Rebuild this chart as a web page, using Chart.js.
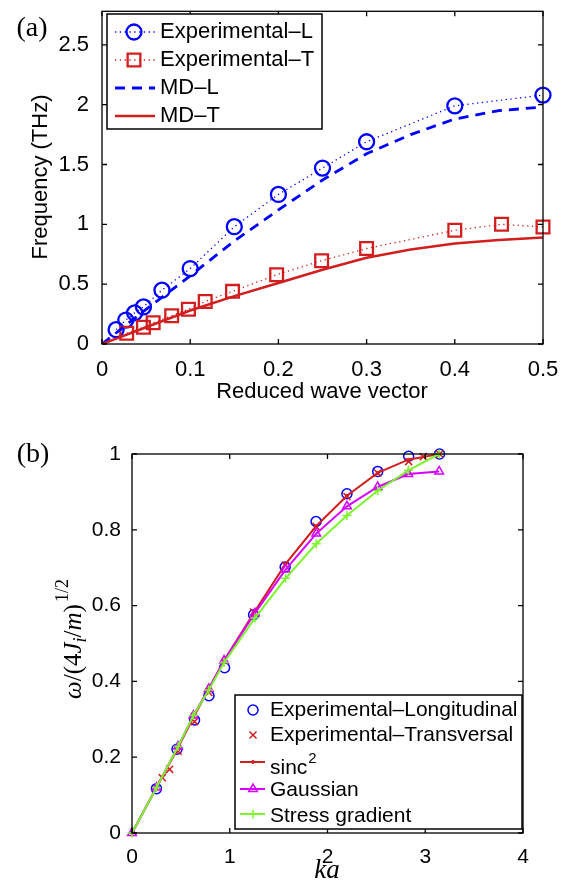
<!DOCTYPE html>
<html>
<head>
<meta charset="utf-8">
<script src="https://cdn.jsdelivr.net/npm/chart.js@4.4.1/dist/chart.umd.min.js"></script>
<style>
body { margin: 0; background: #fff; }
canvas { position: absolute; left: 0; }
#chartA { top: 0; }
#chartB { top: 430px; }
</style>
</head>
<body>
<canvas id="chartA" width="570" height="420"></canvas>
<canvas id="chartB" width="570" height="451"></canvas>
<script>
// ---- panel (a) data ----
const expLx = [0.016, 0.027, 0.037, 0.047, 0.068, 0.1, 0.15, 0.2, 0.25, 0.3, 0.4, 0.5];
const expLy = [0.12, 0.2, 0.26, 0.31, 0.45, 0.63, 0.98, 1.25, 1.47, 1.69, 1.99, 2.08];
const expTx = [0.028, 0.047, 0.058, 0.079, 0.098, 0.117, 0.148, 0.198, 0.249, 0.3, 0.4, 0.453, 0.5];
const expTy = [0.09, 0.14, 0.177, 0.236, 0.291, 0.355, 0.44, 0.579, 0.696, 0.798, 0.95, 1.0, 0.978];
const mdX = [0, 0.05, 0.1, 0.15, 0.2, 0.25, 0.3, 0.35, 0.4, 0.45, 0.5];
const mdLy = [0, 0.29, 0.57, 0.86, 1.12, 1.37, 1.59, 1.75, 1.88, 1.95, 1.98];
const mdTy = [0, 0.14, 0.28, 0.4, 0.51, 0.62, 0.72, 0.79, 0.84, 0.87, 0.89];
const xTicksA = [0, 0.1, 0.2, 0.3, 0.4, 0.5];
const yTicksA = [0, 0.5, 1, 1.5, 2, 2.5];

// ---- panel (b) data ----
const kaL = [0.25, 0.46, 0.64, 0.787, 0.947, 1.244, 1.567, 1.883, 2.199, 2.514, 2.83, 3.146];
const omL = [0.117, 0.221, 0.298, 0.362, 0.436, 0.576, 0.702, 0.822, 0.895, 0.954, 0.994, 1.0];
const kaT = [0.31, 0.385, 0.472, 0.64, 0.787, 1.244, 1.567, 1.883, 2.199, 2.514, 2.83, 2.98, 3.146];
const omT = [0.146, 0.168, 0.216, 0.294, 0.371, 0.583, 0.707, 0.809, 0.888, 0.95, 0.98, 0.993, 1.0];
const kaModel = [0, 0.251, 0.471, 0.628, 0.785, 0.942, 1.257, 1.571, 1.885, 2.199, 2.513, 2.827, 3.142];
const sincY = [0, 0.12, 0.225, 0.305, 0.38, 0.455, 0.585, 0.71, 0.81, 0.89, 0.95, 0.985, 1.0];
const gaussY = [0, 0.12, 0.228, 0.31, 0.38, 0.455, 0.58, 0.695, 0.79, 0.862, 0.913, 0.947, 0.954];
const stressY = [0, 0.12, 0.228, 0.31, 0.377, 0.45, 0.567, 0.672, 0.763, 0.838, 0.903, 0.957, 1.0];
const xTicksB = [0, 1, 2, 3, 4];
const yTicksB = [0, 0.2, 0.4, 0.6, 0.8, 1];

const BLUE = '#0000ff';
const RED = 'rgb(210,30,30)';
const MAGENTA = 'rgb(215,0,255)';
const GREEN = 'rgb(125,245,45)';
const SANS = "'Liberation Sans', Arial, sans-serif";
const SERIF = "'Liberation Serif', 'Times New Roman', serif";

Chart.defaults.font.family = SANS;
Chart.defaults.color = '#000';

function pts(xs, ys) {
    return xs.map((x, i) => ({x: x, y: ys[i]}));
}

// axes box with inward ticks on all four sides (matlab style)
const boxPlugin = {
    id: 'box',
    afterDatasetsDraw(chart) {
        const ctx = chart.ctx;
        const a = chart.chartArea;
        const x = chart.scales.x, y = chart.scales.y;
        const len = 5;
        ctx.save();
        ctx.strokeStyle = '#000';
        ctx.lineWidth = 1.3;
        ctx.strokeRect(a.left, a.top, a.right - a.left, a.bottom - a.top);
        ctx.beginPath();
        x.ticks.forEach(t => {
            const px = x.getPixelForValue(t.value);
            ctx.moveTo(px, a.bottom); ctx.lineTo(px, a.bottom - len);
            ctx.moveTo(px, a.top); ctx.lineTo(px, a.top + len);
        });
        y.ticks.forEach(t => {
            const py = y.getPixelForValue(t.value);
            ctx.moveTo(a.left, py); ctx.lineTo(a.left + len, py);
            ctx.moveTo(a.right, py); ctx.lineTo(a.right - len, py);
        });
        ctx.stroke();
        ctx.restore();
    }
};

// legend box drawn inside the axes
const boxLegend = {
    id: 'boxLegend',
    afterDraw(chart, args, opts) {
        if (!opts.rows) return;
        const ctx = chart.ctx;
        const b = opts.box;
        ctx.save();
        ctx.fillStyle = '#fff';
        ctx.fillRect(b[0], b[1], b[2] - b[0], b[3] - b[1]);
        ctx.strokeStyle = '#000';
        ctx.lineWidth = 1.5;
        ctx.strokeRect(b[0], b[1], b[2] - b[0], b[3] - b[1]);
        opts.rows.forEach(r => {
            if (r.line) {
                ctx.save();
                ctx.strokeStyle = r.line.color;
                ctx.lineWidth = r.line.width;
                ctx.setLineDash(r.line.dash || []);
                ctx.beginPath();
                ctx.moveTo(opts.sample[0], r.y);
                ctx.lineTo(opts.sample[1], r.y);
                ctx.stroke();
                ctx.restore();
            }
            if (r.marker) {
                ctx.save();
                ctx.strokeStyle = r.marker.color;
                ctx.fillStyle = r.marker.fill || 'rgba(0,0,0,0)';
                ctx.lineWidth = r.marker.width;
                Chart.helpers.drawPoint(ctx, {pointStyle: r.marker.style, radius: r.marker.radius, rotation: 0, borderWidth: r.marker.width}, opts.markerX, r.y);
                ctx.restore();
            }
            ctx.fillStyle = '#000';
            ctx.font = opts.fontSize + 'px ' + SANS;
            ctx.textBaseline = 'middle';
            ctx.textAlign = 'left';
            const ty = r.y + (r.textDy || 0);
            ctx.fillText(r.label, opts.textX, ty);
            if (r.sup) {
                const w = ctx.measureText(r.label).width;
                ctx.font = Math.round(opts.fontSize * 0.7) + 'px ' + SANS;
                ctx.fillText(r.sup, opts.textX + w + 1, ty - 9);
            }
        });
        ctx.restore();
    }
};

// panel labels and axis titles
const titles = {
    id: 'titles',
    afterDraw(chart, args, opts) {
        const ctx = chart.ctx;
        ctx.save();
        ctx.fillStyle = '#000';
        ctx.textAlign = 'center';
        ctx.textBaseline = 'middle';
        (opts.texts || []).forEach(t => {
            ctx.save();
            ctx.translate(t.x, t.y);
            if (t.rotate) ctx.rotate(-Math.PI / 2);
            ctx.font = t.font;
            ctx.fillText(t.text, 0, 0);
            ctx.restore();
        });
        if (opts.math) {
            // omega/(4J_i/m)^{1/2}
            const m = opts.math;
            const big = m.size, small = Math.round(m.size * 0.7);
            const pieces = [
                {t: 'ω', it: true}, {t: '/', it: false}, {t: '(4', it: false},
                {t: 'J', it: true}, {t: 'i', it: true, sub: true}, {t: '/', it: false},
                {t: 'm', it: true}, {t: ')', it: false}, {t: '1/2', it: false, sup: true}
            ];
            const fontOf = p => (p.it ? 'italic ' : '') + ((p.sub || p.sup) ? small : big) + 'px ' + SERIF;
            let total = 0;
            pieces.forEach(p => { ctx.font = fontOf(p); p.w = ctx.measureText(p.t).width + (p.sup ? 2 : 0); total += p.w; });
            ctx.translate(m.x, m.y);
            ctx.rotate(-Math.PI / 2);
            ctx.textAlign = 'left';
            ctx.textBaseline = 'alphabetic';
            let cx = -total / 2;
            pieces.forEach(p => {
                ctx.font = fontOf(p);
                let dy = 8;
                if (p.sub) dy += 5;
                if (p.sup) dy -= 13;
                ctx.fillText(p.t, cx + (p.sup ? 2 : 0), dy);
                cx += p.w;
            });
        }
        ctx.restore();
    }
};

function axisOpts(min, max, tickList, fontSize, width, height, pad) {
    return {
        type: 'linear',
        min: min,
        max: max,
        grid: {display: false},
        border: {display: false},
        afterBuildTicks: s => { s.ticks = tickList.map(v => ({value: v})); },
        afterFit: s => {
            if (width !== null) s.width = width;
            if (height !== null) s.height = height;
            s.paddingTop = 0; s.paddingBottom = 0; s.paddingLeft = 0; s.paddingRight = 0;
        },
        ticks: {
            font: {size: fontSize},
            color: '#000',
            padding: pad,
            maxRotation: 0,
            autoSkip: false,
            callback: v => String(v)
        }
    };
}

// ---- chart (a) ----
new Chart(document.getElementById('chartA').getContext('2d'), {
    type: 'scatter',
    data: {
        datasets: [{
            label: 'Experimental-L',
            data: pts(expLx, expLy),
            showLine: true,
            borderColor: BLUE,
            borderWidth: 1.3,
            borderDash: [1.3, 3.5],
            pointStyle: 'circle',
            pointRadius: 7.5,
            pointBorderWidth: 2.3,
            pointBorderColor: BLUE,
            pointBackgroundColor: 'rgba(0,0,0,0)',
            clip: false,
            order: 3
        }, {
            label: 'Experimental-T',
            data: pts(expTx, expTy),
            showLine: true,
            borderColor: RED,
            borderWidth: 1.3,
            borderDash: [1.3, 3.5],
            pointStyle: 'rect',
            pointRadius: 9,
            pointBorderWidth: 2.3,
            pointBorderColor: RED,
            pointBackgroundColor: 'rgba(0,0,0,0)',
            clip: false,
            order: 2
        }, {
            label: 'MD-L',
            data: pts(mdX, mdLy),
            showLine: true,
            borderColor: BLUE,
            borderWidth: 2.8,
            borderDash: [10, 7],
            pointRadius: 0,
            order: 1
        }, {
            label: 'MD-T',
            data: pts(mdX, mdTy),
            showLine: true,
            borderColor: RED,
            borderWidth: 2.5,
            pointRadius: 0,
            order: 0
        }]
    },
    options: {
        responsive: false,
        animation: false,
        layout: {padding: {left: 0, right: 27, top: 9, bottom: 0}},
        scales: {
            x: axisOpts(0, 0.5, xTicksA, 22, null, 76, 5),
            y: axisOpts(0, 2.78, yTicksA, 22, 102, null, 5)
        },
        plugins: {
            legend: {display: false},
            tooltip: {enabled: false},
            boxLegend: {
                box: [107, 14, 322, 129],
                sample: [115, 155],
                markerX: 134,
                textX: 160,
                fontSize: 22,
                rows: [
                    {y: 32, label: 'Experimental–L', line: {color: BLUE, width: 1.3, dash: [1.3, 3.5]}, marker: {style: 'circle', radius: 7.5, color: BLUE, width: 2.3}},
                    {y: 60, label: 'Experimental–T', line: {color: RED, width: 1.3, dash: [1.3, 3.5]}, marker: {style: 'rect', radius: 9, color: RED, width: 2.3}},
                    {y: 88, label: 'MD–L', line: {color: BLUE, width: 2.8, dash: [10, 7]}},
                    {y: 116, label: 'MD–T', line: {color: RED, width: 2.5}}
                ]
            },
            titles: {
                texts: [
                    {text: '(a)', x: 32, y: 29, font: '28px ' + SERIF},
                    {text: 'Frequency (THz)', x: 41, y: 177, rotate: true, font: '22px ' + SANS},
                    {text: 'Reduced wave vector', x: 322, y: 392, font: '22px ' + SANS}
                ]
            }
        }
    },
    plugins: [boxPlugin, boxLegend, titles]
});

// ---- chart (b) ----
new Chart(document.getElementById('chartB').getContext('2d'), {
    type: 'scatter',
    data: {
        datasets: [{
            label: 'Experimental-Longitudinal',
            data: pts(kaL, omL),
            pointStyle: 'circle',
            pointRadius: 5,
            pointBorderWidth: 1.5,
            pointBorderColor: BLUE,
            pointBackgroundColor: 'rgba(0,0,0,0)',
            clip: false,
            order: 4
        }, {
            label: 'Experimental-Transversal',
            data: pts(kaT, omT),
            pointStyle: 'crossRot',
            pointRadius: 5,
            pointBorderWidth: 1.5,
            pointBorderColor: RED,
            clip: false,
            order: 3
        }, {
            label: 'sinc2',
            data: pts(kaModel, sincY),
            showLine: true,
            borderColor: RED,
            borderWidth: 2,
            pointStyle: 'circle',
            pointRadius: 1.5,
            pointBorderWidth: 1,
            pointBorderColor: RED,
            pointBackgroundColor: RED,
            clip: false,
            order: 2
        }, {
            label: 'Gaussian',
            data: pts(kaModel, gaussY),
            showLine: true,
            borderColor: MAGENTA,
            borderWidth: 2,
            pointStyle: 'triangle',
            pointRadius: 5,
            pointBorderWidth: 1.5,
            pointBorderColor: MAGENTA,
            pointBackgroundColor: 'rgba(0,0,0,0)',
            clip: false,
            order: 1
        }, {
            label: 'Stress gradient',
            data: pts(kaModel, stressY),
            showLine: true,
            borderColor: GREEN,
            borderWidth: 2,
            pointStyle: 'cross',
            pointRadius: 4.5,
            pointBorderWidth: 1.5,
            pointBorderColor: GREEN,
            clip: false,
            order: 0
        }]
    },
    options: {
        responsive: false,
        animation: false,
        layout: {padding: {left: 0, right: 47, top: 24, bottom: 0}},
        scales: {
            x: axisOpts(0, 4, xTicksB, 21, null, 48, 4),
            y: axisOpts(0, 1, yTicksB, 21, 132, null, 3)
        },
        plugins: {
            legend: {display: false},
            tooltip: {enabled: false},
            boxLegend: {
                box: [235, 265, 522, 399],
                sample: [240, 265],
                markerX: 253,
                textX: 270,
                fontSize: 21,
                rows: [
                    {y: 280, label: 'Experimental–Longitudinal', marker: {style: 'circle', radius: 5, color: BLUE, width: 1.5}},
                    {y: 305, label: 'Experimental–Transversal', marker: {style: 'crossRot', radius: 5, color: RED, width: 1.5}},
                    {y: 332, label: 'sinc', sup: '2', textDy: 6, line: {color: RED, width: 2}, marker: {style: 'circle', radius: 1.5, color: RED, fill: RED, width: 1}},
                    {y: 359, label: 'Gaussian', textDy: 1, line: {color: MAGENTA, width: 2}, marker: {style: 'triangle', radius: 5, color: MAGENTA, width: 1.5}},
                    {y: 384, label: 'Stress gradient', textDy: 2, line: {color: GREEN, width: 2}, marker: {style: 'cross', radius: 4.5, color: GREEN, width: 1.5}}
                ]
            },
            titles: {
                texts: [
                    {text: '(b)', x: 33, y: 25, font: '28px ' + SERIF},
                    {text: 'ka', x: 327, y: 441, font: 'italic 27px ' + SERIF}
                ],
                math: {x: 73, y: 209, size: 25}
            }
        }
    },
    plugins: [boxPlugin, boxLegend, titles]
});
</script>
</body>
</html>
